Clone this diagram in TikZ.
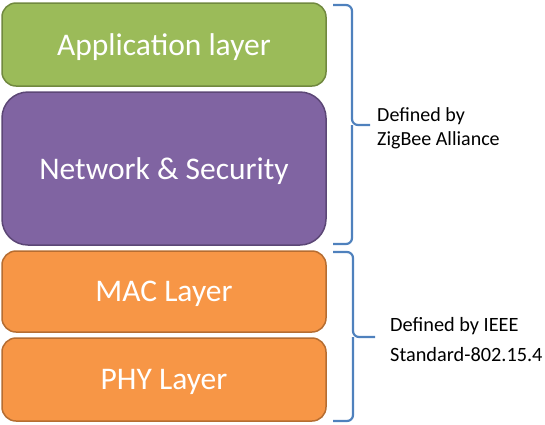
\documentclass[tikz,border=0pt]{standalone}
\usepackage{fontspec}
\setmainfont{Carlito}
\definecolor{appfill}{HTML}{9BBB59}
\definecolor{appline}{HTML}{71893F}
\definecolor{netfill}{HTML}{8064A2}
\definecolor{netline}{HTML}{5C4776}
\definecolor{macfill}{HTML}{F79646}
\definecolor{macline}{HTML}{B66D31}
\definecolor{bracecol}{HTML}{4F81BD}
\begin{document}
\begin{tikzpicture}[x=1pt,y=-1pt,
  layer/.style={draw, line width=1.5pt, minimum width=324pt, text=white,
    font=\fontsize{31.5}{36}\selectfont, inner sep=0pt, text depth=0pt},
  bracepath/.style={draw=bracecol, line width=2.2pt, rounded corners=6pt},
  note/.style={align=left, anchor=west, inner sep=0pt}]
  \useasboundingbox (0,0) rectangle (545,424);
  % protocol stack
  \node[layer, fill=appfill, draw=appline, minimum height=83pt, rounded corners=14pt] (app) at (164,44.5) {Application layer};
  \node[layer, fill=netfill, draw=netline, minimum height=153pt, rounded corners=26pt] (net) at (164,168.5) {Network \& Security};
  \node[layer, fill=macfill, draw=macline, minimum height=81pt, rounded corners=14pt] (mac) at (164,291.5) {MAC Layer};
  \node[layer, fill=macfill, draw=macline, minimum height=83pt, rounded corners=14pt] (phy) at (164,379.5) {PHY Layer};
  % braces
  \coordinate (b1t) at (333,5);
  \coordinate (b1m) at (370,125);
  \coordinate (b1b) at (333,244);
  \draw[bracepath] (b1t) -- (352,5) -- (352,125) -- (b1m);
  \draw[bracepath] (b1b) -- (352,244) -- (352,125);
  \coordinate (b2t) at (333,252);
  \coordinate (b2m) at (375,337);
  \coordinate (b2b) at (333,421);
  \draw[bracepath] (b2t) -- (353,252) -- (353,337) -- (b2m);
  \draw[bracepath] (b2b) -- (353,421) -- (353,337);
  % annotations
  \node[note, font=\fontsize{20}{24}\selectfont] (zb) at (377,128) {Defined by\\ZigBee Alliance};
  \node[note, font=\fontsize{20.3}{30}\selectfont] (ieee) at (390,339.5) {Defined by IEEE\\Standard-802.15.4};
\end{tikzpicture}
\end{document}
